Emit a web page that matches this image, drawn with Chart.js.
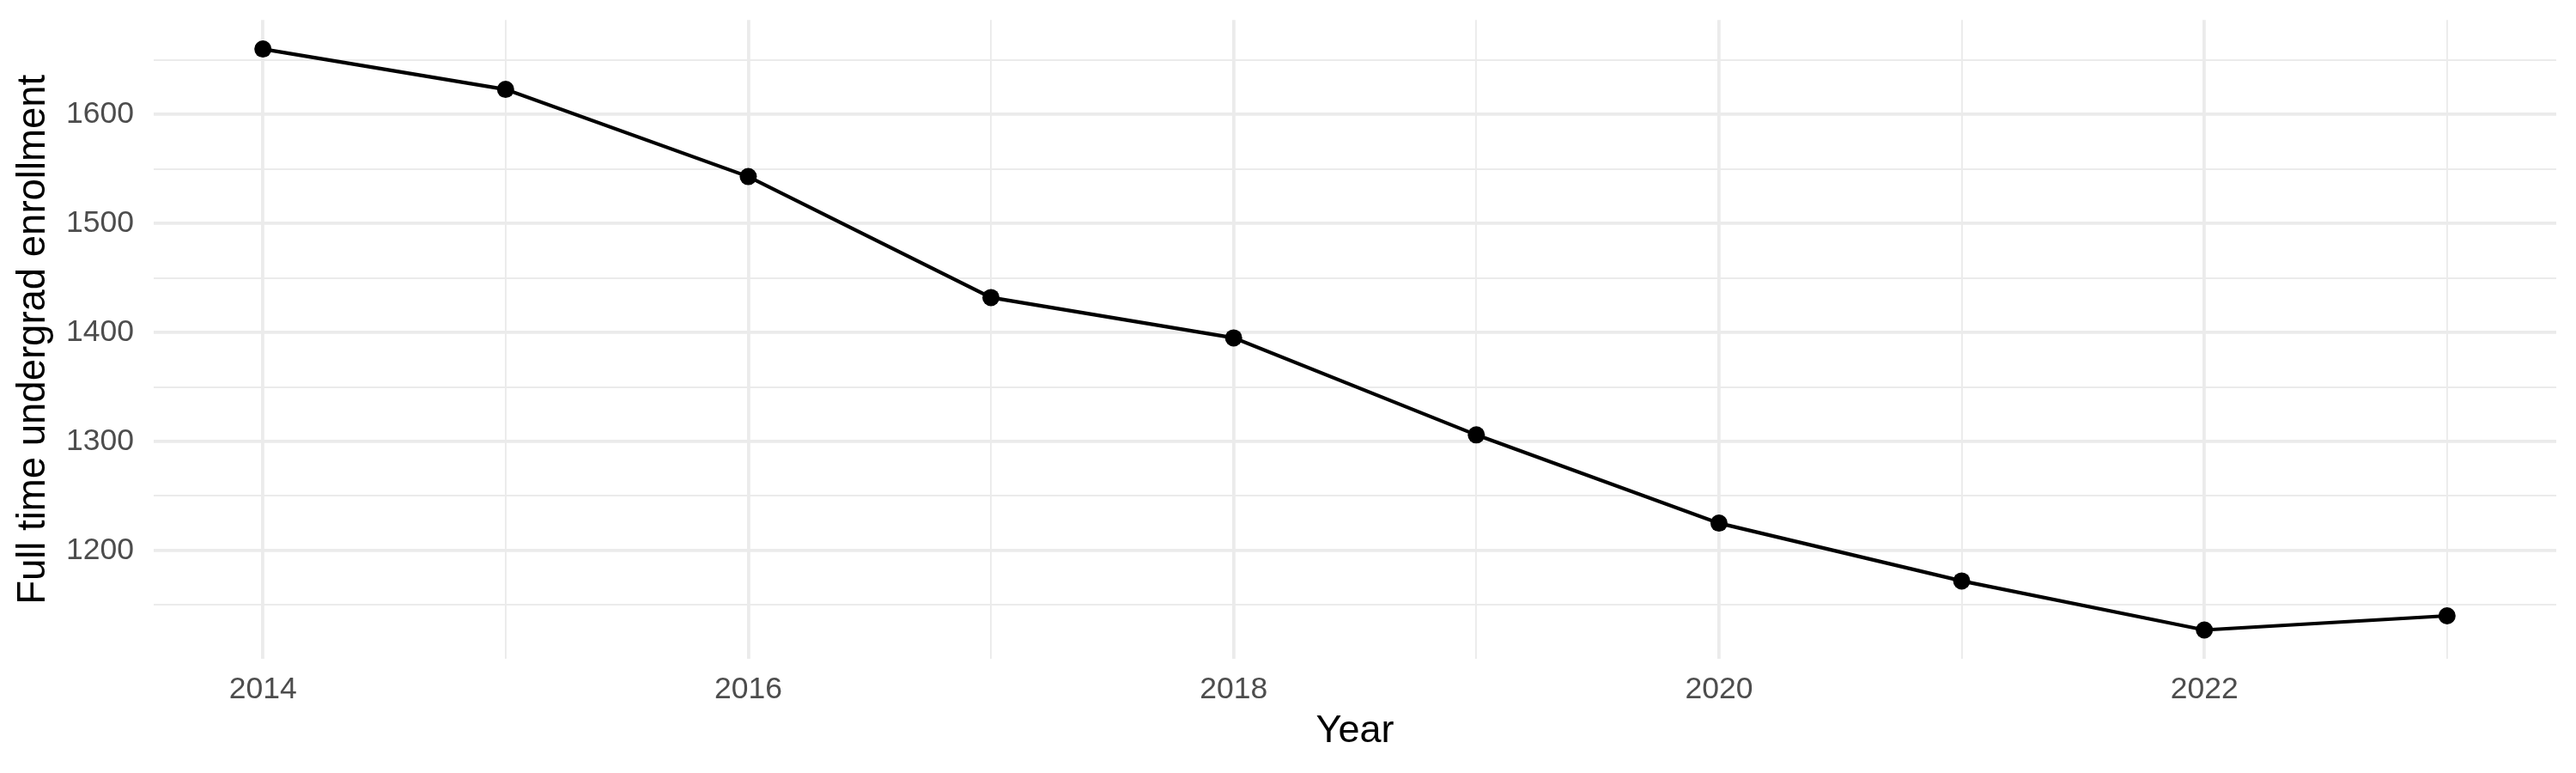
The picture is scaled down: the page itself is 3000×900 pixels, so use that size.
<!DOCTYPE html>
<html>
<head>
<meta charset="utf-8">
<title>Full time undergrad enrollment</title>
<script src="https://cdn.jsdelivr.net/npm/chart.js@4.4.1/dist/chart.umd.min.js"></script>
<style>
  html, body { margin: 0; padding: 0; background: #ffffff; overflow: hidden; }
  #graficoMatricula { display: block; }
</style>
</head>
<body>
<canvas id="graficoMatricula" width="3000" height="900"></canvas>
<script>
// datos
const years = [2014, 2015, 2016, 2017, 2018, 2019, 2020, 2021, 2022, 2023];
const enrollment = [1660, 1623, 1543, 1432, 1395, 1306, 1225, 1172, 1127, 1140];

// marcas de los ejes (las etiquetadas son las mayores)
const xTicks = [2014, 2015, 2016, 2017, 2018, 2019, 2020, 2021, 2022, 2023];
const xTickLabels = [2014, 2016, 2018, 2020, 2022];
const yTicks = [1150, 1200, 1250, 1300, 1350, 1400, 1450, 1500, 1550, 1600, 1650];
const yTickLabels = [1200, 1300, 1400, 1500, 1600];

const GRID = '#EBEBEB';
const FONT = 'Liberation Sans, Arial, Helvetica, sans-serif';

// rango con 5% de expansion como ggplot
const xSpan = Math.max(...years) - Math.min(...years);
const ySpan = Math.max(...enrollment) - Math.min(...enrollment);

const ctx = document.getElementById('graficoMatricula');
new Chart(ctx, {
  type: 'line',
  data: {
    datasets: [{
      label: 'Full time undergrad enrollment',
      data: years.map((y, i) => ({ x: y, y: enrollment[i] })),
      borderColor: '#000000',
      backgroundColor: '#000000',
      borderWidth: 4.2,
      pointRadius: 10,
      pointHoverRadius: 10,
      pointBorderWidth: 0,
      pointBackgroundColor: '#000000',
      tension: 0,
      fill: false
    }]
  },
  options: {
    responsive: false,
    animation: false,
    devicePixelRatio: 1,
    layout: { padding: { left: 0, right: 23, top: 23.3, bottom: 0 } },
    plugins: {
      legend: { display: false },
      tooltip: { enabled: false }
    },
    scales: {
      x: {
        type: 'linear',
        min: Math.min(...years) - xSpan * 0.05,
        max: Math.max(...years) + xSpan * 0.05,
        afterBuildTicks: axis => { axis.ticks = xTicks.map(v => ({ value: v })); },
        afterFit: axis => {
          axis.height = 900 - 767.3;
          axis.paddingLeft = 0;
          axis.paddingRight = 0;
        },
        border: { display: false },
        grid: {
          color: GRID,
          drawTicks: false,
          lineWidth: c => (c.tick && xTickLabels.includes(c.tick.value)) ? 3.8 : 1.9
        },
        ticks: {
          autoSkip: false,
          maxRotation: 0,
          padding: 14.5,
          color: '#4D4D4D',
          font: { family: FONT, size: 35.5 },
          callback: v => xTickLabels.includes(v) ? String(v) : ''
        },
        title: {
          display: true,
          text: 'Year',
          color: '#000000',
          font: { family: FONT, size: 45, lineHeight: 1.2 },
          padding: { top: 0, bottom: 21.5 }
        }
      },
      y: {
        type: 'linear',
        min: Math.min(...enrollment) - ySpan * 0.05,
        max: Math.max(...enrollment) + ySpan * 0.05,
        afterBuildTicks: axis => { axis.ticks = yTicks.map(v => ({ value: v })); },
        afterFit: axis => {
          axis.width = 179;
          axis.paddingTop = 0;
          axis.paddingBottom = 0;
        },
        border: { display: false },
        grid: {
          color: GRID,
          drawTicks: false,
          lineWidth: c => (c.tick && yTickLabels.includes(c.tick.value)) ? 3.8 : 1.9
        },
        ticks: {
          padding: 23,
          color: '#4D4D4D',
          font: { family: FONT, size: 35.5 },
          callback: v => yTickLabels.includes(v) ? String(v) : ''
        },
        title: {
          display: true,
          text: 'Full time undergrad enrollment',
          color: '#000000',
          font: { family: FONT, size: 45.5, lineHeight: 1.2 },
          padding: { top: 12, bottom: 0 }
        }
      }
    }
  }
});
</script>
</body>
</html>
